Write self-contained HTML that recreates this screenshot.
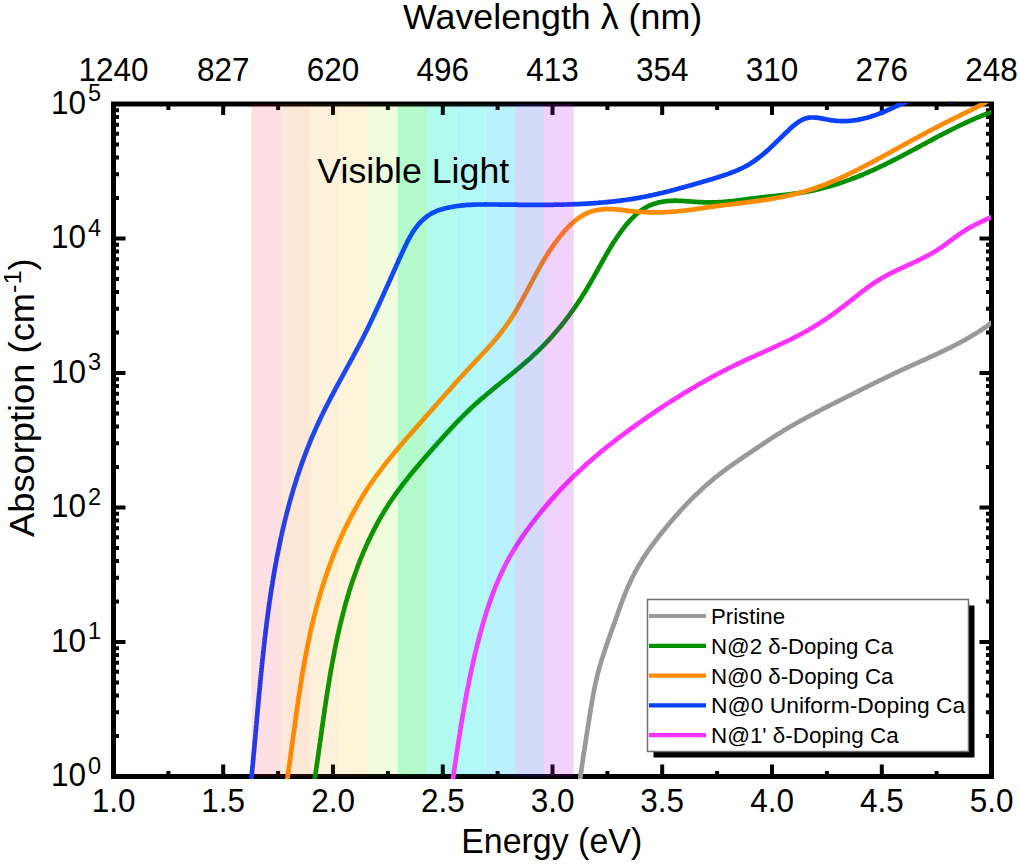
<!DOCTYPE html>
<html><head><meta charset="utf-8"><style>
html,body{margin:0;padding:0;background:#fff;width:1020px;height:866px;overflow:hidden}
svg{display:block;font-family:"Liberation Sans",sans-serif}
.t1{font-size:35px}
.tk{font-size:31.5px}
.sup{font-size:23.5px}
.sup2{font-size:24.5px}
.lg{font-size:22px}
.vl{font-size:34.5px}
</style></head><body>
<svg width="1020" height="866" viewBox="0 0 1020 866">
<defs><clipPath id="pc"><rect x="111" y="103" width="880" height="676"/></clipPath></defs>
<rect x="251.5" y="104" width="29.34" height="672.5" fill="rgb(253,255,255)"/>
<rect x="280.8" y="104" width="29.34" height="672.5" fill="rgb(253,251,245)"/>
<rect x="310.1" y="104" width="29.34" height="672.5" fill="rgb(254,248,239)"/>
<rect x="339.4" y="104" width="29.34" height="672.5" fill="rgb(254,248,237)"/>
<rect x="368.7" y="104" width="29.34" height="672.5" fill="rgb(245,252,236)"/>
<rect x="397.9" y="104" width="29.34" height="672.5" fill="rgb(196,253,215)"/>
<rect x="427.2" y="104" width="29.34" height="672.5" fill="rgb(187,251,242)"/>
<rect x="456.5" y="104" width="29.34" height="672.5" fill="rgb(190,249,248)"/>
<rect x="485.8" y="104" width="29.34" height="672.5" fill="rgb(200,247,250)"/>
<rect x="515.1" y="104" width="29.34" height="672.5" fill="rgb(248,255,249)"/>
<rect x="544.4" y="104" width="29.34" height="672.5" fill="rgb(249,255,249)"/>
<rect x="113.5" y="104" width="878" height="672.5" fill="none" stroke="#000" stroke-width="5"/>
<path d="M168.4,776.5 V771 M168.4,104 V110 M223.2,776.5 V764.5 M223.2,104 V115 M278.1,776.5 V771 M278.1,104 V110 M333.0,776.5 V764.5 M333.0,104 V115 M387.9,776.5 V771 M387.9,104 V110 M442.8,776.5 V764.5 M442.8,104 V115 M497.6,776.5 V771 M497.6,104 V110 M552.5,776.5 V764.5 M552.5,104 V115 M607.4,776.5 V771 M607.4,104 V110 M662.2,776.5 V764.5 M662.2,104 V115 M717.1,776.5 V771 M717.1,104 V110 M772.0,776.5 V764.5 M772.0,104 V115 M826.9,776.5 V771 M826.9,104 V110 M881.8,776.5 V764.5 M881.8,104 V115 M936.6,776.5 V771 M936.6,104 V110 M113.5,736.0 H119 M991.5,736.0 H986 M113.5,712.3 H119 M991.5,712.3 H986 M113.5,695.5 H119 M991.5,695.5 H986 M113.5,682.5 H119 M991.5,682.5 H986 M113.5,671.8 H119 M991.5,671.8 H986 M113.5,662.8 H119 M991.5,662.8 H986 M113.5,655.0 H119 M991.5,655.0 H986 M113.5,648.2 H119 M991.5,648.2 H986 M113.5,642.0 H125.5 M991.5,642.0 H979.5 M113.5,601.5 H119 M991.5,601.5 H986 M113.5,577.8 H119 M991.5,577.8 H986 M113.5,561.0 H119 M991.5,561.0 H986 M113.5,548.0 H119 M991.5,548.0 H986 M113.5,537.3 H119 M991.5,537.3 H986 M113.5,528.3 H119 M991.5,528.3 H986 M113.5,520.5 H119 M991.5,520.5 H986 M113.5,513.7 H119 M991.5,513.7 H986 M113.5,507.5 H125.5 M991.5,507.5 H979.5 M113.5,467.0 H119 M991.5,467.0 H986 M113.5,443.3 H119 M991.5,443.3 H986 M113.5,426.5 H119 M991.5,426.5 H986 M113.5,413.5 H119 M991.5,413.5 H986 M113.5,402.8 H119 M991.5,402.8 H986 M113.5,393.8 H119 M991.5,393.8 H986 M113.5,386.0 H119 M991.5,386.0 H986 M113.5,379.2 H119 M991.5,379.2 H986 M113.5,373.0 H125.5 M991.5,373.0 H979.5 M113.5,332.5 H119 M991.5,332.5 H986 M113.5,308.8 H119 M991.5,308.8 H986 M113.5,292.0 H119 M991.5,292.0 H986 M113.5,279.0 H119 M991.5,279.0 H986 M113.5,268.3 H119 M991.5,268.3 H986 M113.5,259.3 H119 M991.5,259.3 H986 M113.5,251.5 H119 M991.5,251.5 H986 M113.5,244.7 H119 M991.5,244.7 H986 M113.5,238.5 H125.5 M991.5,238.5 H979.5 M113.5,198.0 H119 M991.5,198.0 H986 M113.5,174.3 H119 M991.5,174.3 H986 M113.5,157.5 H119 M991.5,157.5 H986 M113.5,144.5 H119 M991.5,144.5 H986 M113.5,133.8 H119 M991.5,133.8 H986 M113.5,124.8 H119 M991.5,124.8 H986 M113.5,117.0 H119 M991.5,117.0 H986 M113.5,110.2 H119 M991.5,110.2 H986" stroke="#000" stroke-width="4" fill="none"/>
<g clip-path="url(#pc)" fill="none" stroke-width="4.7" stroke-linejoin="round" stroke-linecap="round">
<path d="M578.8,790.0 L579.0,788.5 L579.2,787.0 L579.4,785.5 L579.6,784.0 L579.7,782.6 L579.9,781.1 L580.1,779.6 L580.3,778.1 L580.5,776.6 L580.7,775.1 L580.9,773.6 L581.1,772.2 L581.3,770.7 L581.5,769.2 L581.7,767.7 L581.9,766.2 L582.2,764.7 L582.4,763.2 L582.6,761.8 L582.8,760.3 L583.0,758.8 L583.2,757.3 L583.5,755.8 L583.7,754.3 L583.9,752.9 L584.1,751.4 L584.4,749.9 L584.6,748.4 L584.8,746.9 L585.0,745.4 L585.3,743.9 L585.5,742.5 L585.7,741.0 L586.0,739.5 L586.2,738.0 L586.4,736.5 L586.6,735.0 L586.9,733.6 L587.1,732.1 L587.3,730.6 L587.6,729.1 L587.8,727.6 L588.0,726.1 L588.3,724.7 L588.5,723.2 L588.7,721.7 L589.0,720.2 L589.2,718.7 L589.4,717.2 L589.7,715.8 L589.9,714.3 L590.1,712.8 L590.4,711.3 L590.6,709.8 L590.9,708.3 L591.1,706.9 L591.3,705.4 L591.6,703.9 L591.8,702.4 L592.1,701.0 L592.4,699.5 L592.6,698.0 L592.9,696.5 L593.2,695.1 L593.4,693.6 L593.7,692.1 L594.0,690.6 L594.3,689.2 L594.6,687.7 L594.9,686.2 L595.2,684.8 L595.5,683.3 L595.8,681.9 L596.2,680.4 L596.5,679.0 L596.8,677.5 L597.2,676.1 L597.5,674.6 L597.9,673.2 L598.3,671.7 L598.7,670.3 L599.1,668.8 L599.5,667.4 L599.9,666.0 L600.3,664.5 L600.7,663.1 L601.2,661.7 L601.6,660.2 L602.0,658.8 L602.5,657.4 L603.0,656.0 L603.4,654.5 L603.9,653.1 L604.3,651.7 L604.8,650.3 L605.3,648.8 L605.8,647.4 L606.3,646.0 L606.7,644.6 L607.2,643.2 L607.7,641.7 L608.2,640.3 L608.7,638.9 L609.2,637.5 L609.7,636.1 L610.2,634.7 L610.7,633.2 L611.2,631.8 L611.7,630.4 L612.2,629.0 L612.7,627.6 L613.2,626.2 L613.8,624.7 L614.3,623.3 L614.8,621.9 L615.3,620.5 L615.8,619.1 L616.3,617.6 L616.8,616.2 L617.3,614.8 L617.8,613.4 L618.2,612.0 L618.8,610.6 L619.3,609.1 L619.8,607.7 L620.3,606.3 L620.8,604.9 L621.3,603.5 L621.8,602.1 L622.4,600.7 L622.9,599.3 L623.4,597.9 L624.0,596.5 L624.5,595.1 L625.1,593.7 L625.7,592.3 L626.2,591.0 L626.8,589.6 L627.4,588.2 L628.0,586.8 L628.6,585.5 L629.2,584.1 L629.9,582.8 L630.5,581.4 L631.1,580.1 L631.8,578.7 L632.4,577.4 L633.1,576.0 L633.8,574.7 L634.5,573.4 L635.1,572.1 L635.8,570.7 L636.6,569.4 L637.3,568.1 L638.0,566.8 L638.8,565.5 L639.5,564.2 L640.3,563.0 L641.1,561.7 L641.8,560.4 L642.6,559.1 L643.4,557.9 L644.3,556.6 L645.1,555.4 L645.9,554.1 L646.8,552.9 L647.6,551.6 L648.5,550.4 L649.3,549.2 L650.2,547.9 L651.1,546.7 L652.0,545.5 L652.9,544.3 L653.8,543.1 L654.7,541.9 L655.6,540.7 L656.5,539.5 L657.4,538.3 L658.4,537.1 L659.3,535.9 L660.2,534.7 L661.1,533.5 L662.1,532.4 L663.0,531.2 L664.0,530.0 L664.9,528.8 L665.9,527.7 L666.8,526.5 L667.8,525.3 L668.7,524.2 L669.7,523.0 L670.7,521.9 L671.6,520.7 L672.6,519.6 L673.6,518.5 L674.6,517.3 L675.6,516.2 L676.6,515.1 L677.6,513.9 L678.6,512.8 L679.6,511.7 L680.6,510.6 L681.6,509.5 L682.6,508.4 L683.6,507.3 L684.6,506.2 L685.7,505.1 L686.7,504.0 L687.7,502.9 L688.8,501.9 L689.8,500.8 L690.9,499.7 L691.9,498.7 L693.0,497.6 L694.1,496.6 L695.1,495.5 L696.2,494.5 L697.3,493.4 L698.4,492.4 L699.5,491.4 L700.6,490.4 L701.7,489.3 L702.8,488.3 L703.9,487.3 L705.0,486.3 L706.1,485.3 L707.2,484.4 L708.4,483.4 L709.5,482.4 L710.6,481.4 L711.8,480.5 L712.9,479.5 L714.1,478.6 L715.2,477.6 L716.4,476.7 L717.6,475.8 L718.8,474.8 L719.9,473.9 L721.1,473.0 L722.3,472.1 L723.5,471.2 L724.7,470.3 L725.9,469.4 L727.1,468.5 L728.3,467.6 L729.6,466.7 L730.8,465.9 L732.0,465.0 L733.2,464.1 L734.5,463.3 L735.7,462.4 L736.9,461.5 L738.2,460.7 L739.4,459.8 L740.6,459.0 L741.9,458.1 L743.1,457.3 L744.4,456.4 L745.6,455.6 L746.9,454.8 L748.1,453.9 L749.3,453.1 L750.6,452.2 L751.8,451.4 L753.1,450.6 L754.3,449.7 L755.6,448.9 L756.8,448.0 L758.1,447.2 L759.3,446.4 L760.6,445.5 L761.8,444.7 L763.1,443.9 L764.3,443.0 L765.6,442.2 L766.8,441.4 L768.1,440.5 L769.3,439.7 L770.6,438.9 L771.8,438.1 L773.1,437.3 L774.3,436.4 L775.6,435.6 L776.9,434.8 L778.1,434.0 L779.4,433.2 L780.7,432.5 L782.0,431.7 L783.2,430.9 L784.5,430.1 L785.8,429.3 L787.1,428.6 L788.4,427.8 L789.7,427.1 L791.0,426.3 L792.3,425.6 L793.6,424.8 L794.9,424.1 L796.2,423.3 L797.5,422.6 L798.8,421.8 L800.1,421.1 L801.4,420.4 L802.7,419.7 L804.0,418.9 L805.3,418.2 L806.6,417.5 L808.0,416.8 L809.3,416.1 L810.6,415.4 L811.9,414.7 L813.2,414.0 L814.6,413.3 L815.9,412.6 L817.2,411.9 L818.6,411.2 L819.9,410.5 L821.2,409.8 L822.5,409.1 L823.9,408.4 L825.2,407.7 L826.5,407.1 L827.9,406.4 L829.2,405.7 L830.6,405.0 L831.9,404.3 L833.2,403.7 L834.6,403.0 L835.9,402.3 L837.3,401.6 L838.6,401.0 L839.9,400.3 L841.3,399.6 L842.6,399.0 L844.0,398.3 L845.3,397.6 L846.7,396.9 L848.0,396.3 L849.3,395.6 L850.7,394.9 L852.0,394.3 L853.4,393.6 L854.7,392.9 L856.1,392.3 L857.4,391.6 L858.7,390.9 L860.1,390.2 L861.4,389.6 L862.8,388.9 L864.1,388.2 L865.5,387.6 L866.8,386.9 L868.1,386.2 L869.5,385.6 L870.8,384.9 L872.2,384.2 L873.5,383.6 L874.9,382.9 L876.2,382.2 L877.6,381.6 L878.9,380.9 L880.3,380.2 L881.6,379.6 L883.0,378.9 L884.3,378.3 L885.7,377.6 L887.0,377.0 L888.4,376.3 L889.7,375.7 L891.1,375.0 L892.4,374.4 L893.8,373.7 L895.1,373.1 L896.5,372.4 L897.8,371.8 L899.2,371.2 L900.6,370.5 L901.9,369.9 L903.3,369.3 L904.6,368.6 L906.0,368.0 L907.4,367.4 L908.7,366.8 L910.1,366.2 L911.5,365.5 L912.8,364.9 L914.2,364.3 L915.6,363.7 L916.9,363.1 L918.3,362.5 L919.7,361.8 L921.0,361.2 L922.4,360.6 L923.8,360.0 L925.2,359.4 L926.5,358.8 L927.9,358.1 L929.2,357.5 L930.6,356.9 L932.0,356.3 L933.3,355.6 L934.7,355.0 L936.1,354.4 L937.4,353.8 L938.8,353.1 L940.1,352.5 L941.5,351.8 L942.8,351.2 L944.2,350.6 L945.5,349.9 L946.9,349.2 L948.2,348.6 L949.6,347.9 L950.9,347.3 L952.2,346.6 L953.6,345.9 L954.9,345.2 L956.2,344.5 L957.6,343.8 L958.9,343.2 L960.2,342.4 L961.5,341.7 L962.8,341.0 L964.2,340.3 L965.5,339.6 L966.8,338.8 L968.1,338.1 L969.4,337.3 L970.7,336.6 L971.9,335.8 L973.2,335.0 L974.5,334.3 L975.8,333.5 L977.1,332.7 L978.3,331.9 L979.6,331.1 L980.9,330.2 L982.1,329.4 L983.4,328.6 L984.6,327.7 L985.8,326.9 L987.1,326.0 L988.3,325.1 L989.5,324.2 L990.8,323.3 L992.0,322.4 L993.2,321.5 L994.4,320.6 L994.8,320.2" stroke="#999999"/>
<path d="M451.4,790.0 L451.6,788.5 L451.8,787.0 L452.0,785.5 L452.2,784.0 L452.4,782.6 L452.7,781.1 L452.9,779.6 L453.1,778.1 L453.3,776.6 L453.5,775.1 L453.7,773.6 L453.9,772.1 L454.2,770.7 L454.4,769.2 L454.6,767.7 L454.8,766.2 L455.0,764.7 L455.2,763.2 L455.5,761.7 L455.7,760.3 L455.9,758.8 L456.1,757.3 L456.3,755.8 L456.6,754.3 L456.8,752.8 L457.0,751.4 L457.2,749.9 L457.5,748.4 L457.7,746.9 L457.9,745.4 L458.1,743.9 L458.4,742.5 L458.6,741.0 L458.8,739.5 L459.1,738.0 L459.3,736.5 L459.5,735.1 L459.8,733.6 L460.0,732.1 L460.2,730.6 L460.5,729.1 L460.7,727.7 L460.9,726.2 L461.2,724.7 L461.4,723.2 L461.7,721.7 L461.9,720.3 L462.2,718.8 L462.4,717.3 L462.7,715.8 L462.9,714.4 L463.2,712.9 L463.4,711.4 L463.7,709.9 L464.0,708.5 L464.2,707.0 L464.5,705.5 L464.7,704.0 L465.0,702.6 L465.3,701.1 L465.5,699.6 L465.8,698.1 L466.1,696.7 L466.4,695.2 L466.6,693.7 L466.9,692.2 L467.2,690.8 L467.5,689.3 L467.8,687.8 L468.1,686.4 L468.4,684.9 L468.7,683.4 L468.9,682.0 L469.2,680.5 L469.5,679.0 L469.8,677.6 L470.2,676.1 L470.5,674.6 L470.8,673.2 L471.1,671.7 L471.4,670.2 L471.7,668.8 L472.0,667.3 L472.4,665.8 L472.7,664.4 L473.0,662.9 L473.3,661.4 L473.7,660.0 L474.0,658.5 L474.3,657.1 L474.7,655.6 L475.0,654.1 L475.4,652.7 L475.7,651.2 L476.1,649.8 L476.4,648.3 L476.8,646.8 L477.2,645.4 L477.5,643.9 L477.9,642.5 L478.3,641.0 L478.6,639.6 L479.0,638.1 L479.4,636.6 L479.8,635.2 L480.2,633.7 L480.6,632.3 L481.0,630.8 L481.4,629.4 L481.8,627.9 L482.2,626.5 L482.6,625.0 L483.0,623.6 L483.4,622.1 L483.8,620.7 L484.3,619.2 L484.7,617.8 L485.1,616.4 L485.6,614.9 L486.0,613.5 L486.5,612.1 L486.9,610.6 L487.4,609.2 L487.9,607.8 L488.3,606.3 L488.8,604.9 L489.3,603.5 L489.8,602.1 L490.3,600.7 L490.8,599.2 L491.3,597.8 L491.8,596.4 L492.3,595.0 L492.8,593.6 L493.4,592.2 L493.9,590.8 L494.5,589.4 L495.0,588.0 L495.6,586.6 L496.1,585.2 L496.7,583.8 L497.3,582.5 L497.9,581.1 L498.5,579.7 L499.1,578.3 L499.7,577.0 L500.3,575.6 L500.9,574.3 L501.5,572.9 L502.2,571.5 L502.8,570.2 L503.5,568.9 L504.1,567.5 L504.8,566.2 L505.5,564.8 L506.2,563.5 L506.8,562.2 L507.5,560.9 L508.3,559.6 L509.0,558.2 L509.7,556.9 L510.4,555.6 L511.2,554.3 L511.9,553.1 L512.7,551.8 L513.5,550.5 L514.2,549.2 L515.0,547.9 L515.8,546.7 L516.6,545.4 L517.4,544.1 L518.2,542.9 L519.1,541.6 L519.9,540.4 L520.7,539.1 L521.6,537.9 L522.4,536.6 L523.3,535.4 L524.1,534.2 L525.0,532.9 L525.9,531.7 L526.7,530.5 L527.6,529.3 L528.5,528.1 L529.4,526.9 L530.3,525.7 L531.2,524.5 L532.1,523.3 L533.0,522.1 L533.9,520.9 L534.8,519.7 L535.8,518.5 L536.7,517.3 L537.6,516.2 L538.6,515.0 L539.5,513.8 L540.4,512.6 L541.4,511.5 L542.3,510.3 L543.3,509.2 L544.3,508.0 L545.2,506.9 L546.2,505.7 L547.2,504.6 L548.1,503.4 L549.1,502.3 L550.1,501.1 L551.1,500.0 L552.1,498.9 L553.1,497.8 L554.1,496.7 L555.1,495.5 L556.1,494.4 L557.1,493.3 L558.1,492.2 L559.2,491.1 L560.2,490.0 L561.2,488.9 L562.2,487.8 L563.3,486.7 L564.3,485.7 L565.4,484.6 L566.4,483.5 L567.4,482.4 L568.5,481.4 L569.6,480.3 L570.6,479.3 L571.7,478.2 L572.8,477.1 L573.8,476.1 L574.9,475.1 L576.0,474.0 L577.1,473.0 L578.2,472.0 L579.2,470.9 L580.3,469.9 L581.4,468.9 L582.5,467.9 L583.6,466.9 L584.8,465.8 L585.9,464.8 L587.0,463.8 L588.1,462.8 L589.2,461.9 L590.3,460.9 L591.5,459.9 L592.6,458.9 L593.7,457.9 L594.9,457.0 L596.0,456.0 L597.2,455.0 L598.3,454.1 L599.5,453.1 L600.6,452.1 L601.8,451.2 L602.9,450.2 L604.1,449.3 L605.3,448.3 L606.4,447.4 L607.6,446.5 L608.8,445.5 L609.9,444.6 L611.1,443.7 L612.3,442.8 L613.5,441.8 L614.7,440.9 L615.8,440.0 L617.0,439.1 L618.2,438.2 L619.4,437.3 L620.6,436.4 L621.8,435.5 L623.0,434.6 L624.2,433.7 L625.4,432.8 L626.6,431.9 L627.8,431.0 L629.0,430.1 L630.3,429.2 L631.5,428.3 L632.7,427.5 L633.9,426.6 L635.1,425.7 L636.3,424.8 L637.6,424.0 L638.8,423.1 L640.0,422.2 L641.2,421.4 L642.5,420.5 L643.7,419.6 L644.9,418.8 L646.1,417.9 L647.4,417.1 L648.6,416.2 L649.8,415.4 L651.1,414.5 L652.3,413.7 L653.6,412.8 L654.8,412.0 L656.0,411.1 L657.3,410.3 L658.5,409.5 L659.8,408.6 L661.0,407.8 L662.3,407.0 L663.5,406.2 L664.8,405.3 L666.1,404.5 L667.3,403.7 L668.6,402.9 L669.8,402.1 L671.1,401.3 L672.4,400.5 L673.6,399.7 L674.9,398.9 L676.2,398.1 L677.4,397.3 L678.7,396.5 L680.0,395.7 L681.2,394.9 L682.5,394.1 L683.8,393.3 L685.1,392.5 L686.4,391.8 L687.6,391.0 L688.9,390.2 L690.2,389.4 L691.5,388.7 L692.8,387.9 L694.1,387.2 L695.4,386.4 L696.7,385.6 L698.0,384.9 L699.3,384.1 L700.6,383.4 L701.9,382.7 L703.2,381.9 L704.5,381.2 L705.8,380.4 L707.1,379.7 L708.4,379.0 L709.7,378.3 L711.0,377.6 L712.4,376.8 L713.7,376.1 L715.0,375.4 L716.3,374.7 L717.7,374.0 L719.0,373.3 L720.3,372.6 L721.6,371.9 L723.0,371.2 L724.3,370.5 L725.6,369.9 L727.0,369.2 L728.3,368.5 L729.6,367.8 L731.0,367.2 L732.3,366.5 L733.7,365.8 L735.0,365.2 L736.4,364.5 L737.7,363.9 L739.1,363.2 L740.4,362.6 L741.8,361.9 L743.2,361.3 L744.5,360.7 L745.9,360.0 L747.2,359.4 L748.6,358.8 L750.0,358.2 L751.3,357.5 L752.7,356.9 L754.1,356.3 L755.4,355.7 L756.8,355.0 L758.2,354.4 L759.5,353.8 L760.9,353.2 L762.3,352.6 L763.6,352.0 L765.0,351.3 L766.4,350.7 L767.8,350.1 L769.1,349.5 L770.5,348.9 L771.8,348.2 L773.2,347.6 L774.6,347.0 L775.9,346.4 L777.3,345.7 L778.7,345.1 L780.0,344.5 L781.4,343.8 L782.7,343.2 L784.1,342.5 L785.4,341.9 L786.8,341.2 L788.1,340.6 L789.5,339.9 L790.8,339.3 L792.2,338.6 L793.5,337.9 L794.8,337.2 L796.2,336.6 L797.5,335.9 L798.8,335.2 L800.1,334.5 L801.5,333.8 L802.8,333.1 L804.1,332.3 L805.4,331.6 L806.7,330.9 L808.0,330.2 L809.3,329.4 L810.6,328.7 L811.9,327.9 L813.2,327.1 L814.5,326.4 L815.7,325.6 L817.0,324.8 L818.3,324.0 L819.5,323.2 L820.8,322.4 L822.0,321.6 L823.3,320.8 L824.6,319.9 L825.8,319.1 L827.0,318.2 L828.3,317.4 L829.5,316.5 L830.7,315.7 L832.0,314.8 L833.2,313.9 L834.4,313.1 L835.6,312.2 L836.8,311.3 L838.0,310.4 L839.2,309.5 L840.4,308.6 L841.6,307.7 L842.8,306.8 L844.0,305.9 L845.2,305.0 L846.4,304.0 L847.6,303.1 L848.8,302.2 L850.0,301.3 L851.1,300.3 L852.3,299.4 L853.5,298.5 L854.6,297.5 L855.8,296.6 L857.0,295.7 L858.2,294.7 L859.3,293.8 L860.5,292.9 L861.7,292.0 L862.9,291.0 L864.1,290.1 L865.3,289.2 L866.4,288.3 L867.6,287.5 L868.8,286.6 L870.1,285.7 L871.3,284.9 L872.5,284.0 L873.7,283.2 L875.0,282.3 L876.2,281.5 L877.5,280.7 L878.7,280.0 L880.0,279.2 L881.3,278.4 L882.6,277.7 L883.9,277.0 L885.2,276.2 L886.5,275.5 L887.8,274.8 L889.1,274.1 L890.5,273.4 L891.8,272.8 L893.2,272.1 L894.5,271.4 L895.9,270.8 L897.2,270.1 L898.6,269.5 L899.9,268.9 L901.3,268.2 L902.7,267.6 L904.0,267.0 L905.4,266.3 L906.8,265.7 L908.1,265.1 L909.5,264.4 L910.9,263.8 L912.2,263.2 L913.6,262.5 L915.0,261.9 L916.3,261.3 L917.7,260.6 L919.0,260.0 L920.4,259.3 L921.7,258.6 L923.1,258.0 L924.4,257.3 L925.7,256.6 L927.1,255.9 L928.4,255.2 L929.7,254.5 L931.0,253.8 L932.3,253.0 L933.6,252.3 L934.9,251.5 L936.2,250.7 L937.4,249.9 L938.7,249.1 L939.9,248.3 L941.2,247.5 L942.4,246.6 L943.6,245.8 L944.8,244.9 L946.0,244.0 L947.2,243.1 L948.4,242.2 L949.6,241.3 L950.8,240.4 L952.0,239.5 L953.2,238.7 L954.5,237.8 L955.7,236.9 L956.9,236.0 L958.1,235.1 L959.3,234.3 L960.5,233.4 L961.8,232.6 L963.0,231.7 L964.3,230.9 L965.6,230.1 L966.8,229.4 L968.1,228.6 L969.4,227.8 L970.7,227.1 L972.0,226.4 L973.4,225.7 L974.7,225.0 L976.0,224.3 L977.4,223.6 L978.7,222.9 L980.1,222.3 L981.4,221.6 L982.8,221.0 L984.2,220.4 L985.5,219.7 L986.9,219.1 L988.3,218.5 L989.7,217.9 L991.0,217.3 L992.4,216.7 L993.8,216.1 L995.0,215.6" stroke="#ff33ff"/>
<path d="M313.1,789.6 L313.3,788.2 L313.5,786.7 L313.8,785.3 L314.0,783.8 L314.2,782.4 L314.4,780.9 L314.7,779.5 L314.9,778.0 L315.1,776.6 L315.3,775.1 L315.5,773.7 L315.7,772.2 L316.0,770.8 L316.2,769.3 L316.4,767.8 L316.6,766.4 L316.8,764.9 L317.0,763.5 L317.2,762.0 L317.4,760.5 L317.7,759.1 L317.9,757.6 L318.1,756.1 L318.3,754.6 L318.5,753.2 L318.7,751.7 L318.9,750.2 L319.1,748.7 L319.3,747.3 L319.5,745.8 L319.7,744.3 L319.9,742.8 L320.2,741.4 L320.4,739.9 L320.6,738.4 L320.8,736.9 L321.0,735.4 L321.2,733.9 L321.4,732.5 L321.6,731.0 L321.8,729.5 L322.0,728.0 L322.2,726.5 L322.5,725.0 L322.7,723.5 L322.9,722.0 L323.1,720.6 L323.3,719.1 L323.5,717.6 L323.7,716.1 L324.0,714.6 L324.2,713.1 L324.4,711.6 L324.6,710.1 L324.8,708.6 L325.0,707.1 L325.3,705.6 L325.5,704.2 L325.7,702.7 L325.9,701.2 L326.2,699.7 L326.4,698.2 L326.6,696.7 L326.9,695.2 L327.1,693.7 L327.3,692.2 L327.6,690.7 L327.8,689.2 L328.0,687.7 L328.3,686.2 L328.5,684.7 L328.8,683.3 L329.0,681.8 L329.3,680.3 L329.5,678.8 L329.7,677.3 L330.0,675.8 L330.3,674.3 L330.5,672.8 L330.8,671.3 L331.0,669.8 L331.3,668.3 L331.6,666.9 L331.8,665.4 L332.1,663.9 L332.4,662.4 L332.6,660.9 L332.9,659.4 L333.2,657.9 L333.5,656.5 L333.8,655.0 L334.1,653.5 L334.3,652.0 L334.6,650.5 L334.9,649.0 L335.2,647.6 L335.5,646.1 L335.8,644.6 L336.1,643.1 L336.4,641.7 L336.8,640.2 L337.1,638.7 L337.4,637.2 L337.7,635.8 L338.0,634.3 L338.4,632.8 L338.7,631.3 L339.0,629.9 L339.4,628.4 L339.7,626.9 L340.0,625.5 L340.4,624.0 L340.7,622.5 L341.1,621.1 L341.5,619.6 L341.8,618.2 L342.2,616.7 L342.6,615.3 L342.9,613.8 L343.3,612.3 L343.7,610.9 L344.1,609.4 L344.5,608.0 L344.8,606.6 L345.2,605.1 L345.6,603.7 L346.0,602.2 L346.5,600.8 L346.9,599.3 L347.3,597.9 L347.7,596.5 L348.1,595.0 L348.6,593.6 L349.0,592.2 L349.4,590.7 L349.9,589.3 L350.3,587.9 L350.8,586.5 L351.2,585.0 L351.7,583.6 L352.2,582.2 L352.6,580.8 L353.1,579.4 L353.6,578.0 L354.1,576.6 L354.6,575.2 L355.1,573.8 L355.6,572.4 L356.1,571.0 L356.6,569.6 L357.1,568.2 L357.6,566.8 L358.1,565.4 L358.7,564.0 L359.2,562.6 L359.7,561.2 L360.3,559.8 L360.8,558.5 L361.4,557.1 L362.0,555.7 L362.5,554.3 L363.1,553.0 L363.7,551.6 L364.3,550.2 L364.9,548.9 L365.5,547.5 L366.1,546.1 L366.7,544.8 L367.3,543.4 L367.9,542.1 L368.5,540.8 L369.2,539.4 L369.8,538.1 L370.5,536.7 L371.1,535.4 L371.8,534.1 L372.4,532.7 L373.1,531.4 L373.8,530.1 L374.5,528.8 L375.1,527.5 L375.8,526.1 L376.5,524.8 L377.2,523.5 L378.0,522.2 L378.7,520.9 L379.4,519.6 L380.1,518.3 L380.9,517.0 L381.6,515.7 L382.4,514.5 L383.2,513.2 L383.9,511.9 L384.7,510.6 L385.5,509.4 L386.3,508.1 L387.1,506.8 L387.9,505.6 L388.7,504.3 L389.5,503.0 L390.3,501.8 L391.2,500.5 L392.0,499.3 L392.9,498.1 L393.7,496.8 L394.6,495.6 L395.4,494.4 L396.3,493.1 L397.2,491.9 L398.1,490.7 L399.0,489.5 L399.9,488.3 L400.8,487.1 L401.7,485.8 L402.6,484.6 L403.5,483.4 L404.5,482.2 L405.4,481.1 L406.3,479.9 L407.3,478.7 L408.2,477.5 L409.2,476.3 L410.1,475.1 L411.1,473.9 L412.0,472.8 L413.0,471.6 L414.0,470.4 L414.9,469.3 L415.9,468.1 L416.9,466.9 L417.9,465.8 L418.8,464.6 L419.8,463.5 L420.8,462.3 L421.8,461.2 L422.8,460.0 L423.8,458.9 L424.8,457.7 L425.8,456.6 L426.8,455.4 L427.8,454.3 L428.8,453.2 L429.8,452.0 L430.8,450.9 L431.8,449.8 L432.8,448.6 L433.8,447.5 L434.8,446.4 L435.8,445.3 L436.8,444.1 L437.8,443.0 L438.8,441.9 L439.8,440.8 L440.8,439.7 L441.8,438.6 L442.8,437.5 L443.8,436.3 L444.8,435.2 L445.8,434.1 L446.8,433.0 L447.8,431.9 L448.8,430.8 L449.8,429.7 L450.8,428.7 L451.8,427.6 L452.9,426.5 L453.9,425.4 L454.9,424.3 L455.9,423.2 L456.9,422.2 L458.0,421.1 L459.0,420.0 L460.0,419.0 L461.1,417.9 L462.1,416.9 L463.2,415.8 L464.2,414.8 L465.3,413.7 L466.3,412.7 L467.4,411.7 L468.5,410.6 L469.5,409.6 L470.6,408.6 L471.7,407.6 L472.8,406.6 L473.9,405.6 L475.0,404.6 L476.1,403.6 L477.2,402.6 L478.4,401.6 L479.5,400.6 L480.6,399.6 L481.7,398.6 L482.9,397.7 L484.0,396.7 L485.2,395.7 L486.3,394.8 L487.5,393.8 L488.6,392.8 L489.8,391.9 L490.9,390.9 L492.1,390.0 L493.2,389.0 L494.4,388.0 L495.6,387.1 L496.7,386.1 L497.9,385.2 L499.1,384.2 L500.2,383.3 L501.4,382.3 L502.6,381.4 L503.8,380.4 L504.9,379.5 L506.1,378.5 L507.3,377.6 L508.4,376.6 L509.6,375.7 L510.8,374.7 L511.9,373.8 L513.1,372.8 L514.3,371.9 L515.4,370.9 L516.6,369.9 L517.7,369.0 L518.9,368.0 L520.0,367.0 L521.2,366.1 L522.3,365.1 L523.5,364.1 L524.6,363.1 L525.8,362.1 L526.9,361.1 L528.0,360.2 L529.1,359.2 L530.3,358.2 L531.4,357.2 L532.5,356.1 L533.6,355.1 L534.7,354.1 L535.8,353.1 L536.9,352.1 L537.9,351.0 L539.0,350.0 L540.1,348.9 L541.1,347.9 L542.2,346.8 L543.2,345.8 L544.3,344.7 L545.3,343.6 L546.3,342.6 L547.4,341.5 L548.4,340.4 L549.4,339.3 L550.4,338.2 L551.4,337.1 L552.4,336.0 L553.4,334.9 L554.4,333.7 L555.3,332.6 L556.3,331.5 L557.3,330.3 L558.2,329.2 L559.2,328.1 L560.1,326.9 L561.1,325.8 L562.0,324.6 L562.9,323.4 L563.9,322.3 L564.8,321.1 L565.7,319.9 L566.6,318.7 L567.5,317.5 L568.4,316.3 L569.3,315.1 L570.2,313.9 L571.0,312.7 L571.9,311.5 L572.8,310.3 L573.6,309.1 L574.5,307.8 L575.3,306.6 L576.2,305.4 L577.0,304.1 L577.9,302.9 L578.7,301.6 L579.5,300.4 L580.3,299.1 L581.2,297.9 L582.0,296.6 L582.8,295.3 L583.6,294.1 L584.4,292.8 L585.2,291.5 L586.0,290.2 L586.7,288.9 L587.5,287.6 L588.3,286.4 L589.0,285.1 L589.8,283.8 L590.6,282.4 L591.3,281.1 L592.1,279.8 L592.8,278.5 L593.6,277.2 L594.3,275.9 L595.0,274.5 L595.8,273.2 L596.5,271.9 L597.3,270.6 L598.0,269.3 L598.7,267.9 L599.5,266.6 L600.2,265.3 L600.9,264.0 L601.7,262.6 L602.4,261.3 L603.2,260.0 L603.9,258.7 L604.7,257.3 L605.4,256.0 L606.2,254.7 L606.9,253.4 L607.7,252.1 L608.5,250.8 L609.2,249.5 L610.0,248.2 L610.8,246.9 L611.6,245.6 L612.4,244.3 L613.2,243.0 L614.0,241.8 L614.9,240.5 L615.7,239.2 L616.5,238.0 L617.4,236.7 L618.2,235.5 L619.1,234.2 L620.0,233.0 L620.9,231.8 L621.8,230.5 L622.7,229.3 L623.6,228.1 L624.5,226.9 L625.5,225.7 L626.4,224.6 L627.4,223.4 L628.4,222.3 L629.4,221.1 L630.4,220.0 L631.5,218.9 L632.5,217.9 L633.6,216.8 L634.6,215.8 L635.7,214.8 L636.8,213.8 L637.9,212.9 L639.1,212.0 L640.2,211.1 L641.4,210.2 L642.6,209.4 L643.8,208.6 L645.0,207.9 L646.3,207.2 L647.5,206.5 L648.8,205.9 L650.1,205.3 L651.4,204.8 L652.8,204.3 L654.1,203.8 L655.5,203.4 L656.8,203.0 L658.2,202.6 L659.6,202.3 L661.0,202.0 L662.5,201.7 L663.9,201.5 L665.4,201.3 L666.8,201.1 L668.3,201.0 L669.8,200.9 L671.2,200.8 L672.7,200.8 L674.2,200.7 L675.7,200.7 L677.2,200.8 L678.8,200.8 L680.3,200.9 L681.8,200.9 L683.3,201.0 L684.9,201.1 L686.4,201.2 L687.9,201.3 L689.5,201.4 L691.0,201.5 L692.5,201.7 L694.1,201.8 L695.6,201.9 L697.2,202.0 L698.7,202.1 L700.2,202.2 L701.7,202.2 L703.3,202.3 L704.8,202.4 L706.3,202.4 L707.8,202.4 L709.3,202.4 L710.9,202.4 L712.4,202.4 L713.9,202.4 L715.4,202.4 L716.9,202.3 L718.4,202.2 L719.9,202.2 L721.4,202.1 L722.8,202.0 L724.3,201.8 L725.8,201.7 L727.3,201.6 L728.8,201.4 L730.3,201.3 L731.7,201.1 L733.2,201.0 L734.7,200.8 L736.2,200.6 L737.7,200.4 L739.1,200.3 L740.6,200.1 L742.1,199.9 L743.6,199.7 L745.0,199.5 L746.5,199.3 L748.0,199.1 L749.5,198.9 L750.9,198.7 L752.4,198.5 L753.9,198.3 L755.4,198.1 L756.9,198.0 L758.4,197.8 L759.8,197.6 L761.3,197.4 L762.8,197.3 L764.3,197.1 L765.8,196.9 L767.3,196.8 L768.8,196.6 L770.3,196.4 L771.8,196.3 L773.3,196.1 L774.7,196.0 L776.2,195.8 L777.7,195.6 L779.2,195.5 L780.7,195.3 L782.2,195.1 L783.7,195.0 L785.2,194.8 L786.7,194.6 L788.2,194.5 L789.7,194.3 L791.2,194.1 L792.7,193.9 L794.2,193.7 L795.6,193.5 L797.1,193.3 L798.6,193.0 L800.1,192.8 L801.6,192.6 L803.1,192.3 L804.5,192.1 L806.0,191.8 L807.5,191.6 L809.0,191.3 L810.4,191.0 L811.9,190.7 L813.4,190.4 L814.8,190.1 L816.3,189.7 L817.7,189.4 L819.2,189.1 L820.6,188.7 L822.1,188.3 L823.5,188.0 L825.0,187.6 L826.4,187.2 L827.9,186.8 L829.3,186.4 L830.7,186.0 L832.2,185.5 L833.6,185.1 L835.0,184.7 L836.5,184.2 L837.9,183.8 L839.3,183.3 L840.7,182.8 L842.2,182.4 L843.6,181.9 L845.0,181.4 L846.4,180.9 L847.8,180.4 L849.2,179.9 L850.6,179.4 L852.0,178.8 L853.4,178.3 L854.8,177.8 L856.2,177.2 L857.6,176.7 L859.0,176.1 L860.4,175.5 L861.8,175.0 L863.2,174.4 L864.5,173.8 L865.9,173.2 L867.3,172.6 L868.7,172.0 L870.0,171.4 L871.4,170.8 L872.8,170.2 L874.2,169.6 L875.5,169.0 L876.9,168.3 L878.2,167.7 L879.6,167.0 L880.9,166.4 L882.3,165.8 L883.6,165.1 L885.0,164.5 L886.3,163.8 L887.7,163.1 L889.0,162.5 L890.4,161.8 L891.7,161.1 L893.0,160.4 L894.4,159.8 L895.7,159.1 L897.1,158.4 L898.4,157.7 L899.7,157.0 L901.0,156.3 L902.4,155.6 L903.7,154.9 L905.0,154.2 L906.4,153.5 L907.7,152.8 L909.0,152.1 L910.3,151.4 L911.7,150.7 L913.0,150.0 L914.3,149.3 L915.6,148.6 L916.9,147.9 L918.3,147.2 L919.6,146.4 L920.9,145.7 L922.2,145.0 L923.5,144.3 L924.9,143.6 L926.2,142.9 L927.5,142.2 L928.8,141.5 L930.1,140.8 L931.5,140.1 L932.8,139.4 L934.1,138.6 L935.4,137.9 L936.8,137.2 L938.1,136.5 L939.4,135.8 L940.7,135.1 L942.1,134.5 L943.4,133.8 L944.7,133.1 L946.1,132.4 L947.4,131.7 L948.7,131.0 L950.1,130.3 L951.4,129.7 L952.8,129.0 L954.1,128.3 L955.4,127.7 L956.8,127.0 L958.1,126.3 L959.5,125.7 L960.8,125.0 L962.2,124.4 L963.5,123.8 L964.9,123.1 L966.3,122.5 L967.6,121.9 L969.0,121.2 L970.3,120.6 L971.7,120.0 L973.1,119.4 L974.5,118.8 L975.8,118.2 L977.2,117.6 L978.6,117.0 L980.0,116.5 L981.4,115.9 L982.8,115.3 L984.2,114.8 L985.6,114.2 L987.0,113.7 L988.4,113.2 L989.8,112.6 L991.2,112.1 L992.6,111.6 L994.0,111.1 L995.1,110.7" stroke="#009000"/>
<path d="M285.7,790.0 L285.9,788.5 L286.1,787.0 L286.3,785.5 L286.6,784.1 L286.8,782.6 L287.0,781.1 L287.2,779.6 L287.4,778.1 L287.7,776.6 L287.9,775.1 L288.1,773.7 L288.3,772.2 L288.5,770.7 L288.7,769.2 L288.9,767.7 L289.2,766.2 L289.4,764.7 L289.6,763.3 L289.8,761.8 L290.0,760.3 L290.2,758.8 L290.4,757.3 L290.6,755.8 L290.8,754.3 L291.0,752.8 L291.2,751.4 L291.4,749.9 L291.6,748.4 L291.8,746.9 L292.0,745.4 L292.2,743.9 L292.4,742.4 L292.6,741.0 L292.8,739.5 L293.0,738.0 L293.2,736.5 L293.4,735.0 L293.6,733.5 L293.8,732.0 L294.0,730.6 L294.3,729.1 L294.5,727.6 L294.7,726.1 L294.9,724.6 L295.1,723.1 L295.3,721.6 L295.5,720.2 L295.7,718.7 L295.9,717.2 L296.1,715.7 L296.3,714.2 L296.5,712.7 L296.7,711.2 L296.9,709.8 L297.1,708.3 L297.4,706.8 L297.6,705.3 L297.8,703.8 L298.0,702.3 L298.2,700.9 L298.4,699.4 L298.6,697.9 L298.9,696.4 L299.1,694.9 L299.3,693.5 L299.5,692.0 L299.8,690.5 L300.0,689.0 L300.2,687.5 L300.5,686.0 L300.7,684.6 L300.9,683.1 L301.2,681.6 L301.4,680.1 L301.6,678.6 L301.9,677.2 L302.1,675.7 L302.4,674.2 L302.6,672.7 L302.9,671.3 L303.1,669.8 L303.4,668.3 L303.6,666.8 L303.9,665.4 L304.1,663.9 L304.4,662.4 L304.7,660.9 L304.9,659.5 L305.2,658.0 L305.5,656.5 L305.8,655.0 L306.1,653.6 L306.3,652.1 L306.6,650.6 L306.9,649.1 L307.2,647.7 L307.5,646.2 L307.8,644.7 L308.1,643.3 L308.4,641.8 L308.7,640.3 L309.0,638.9 L309.3,637.4 L309.6,635.9 L310.0,634.5 L310.3,633.0 L310.6,631.5 L310.9,630.1 L311.3,628.6 L311.6,627.1 L311.9,625.7 L312.3,624.2 L312.6,622.7 L313.0,621.3 L313.3,619.8 L313.7,618.4 L314.1,616.9 L314.4,615.4 L314.8,614.0 L315.2,612.5 L315.5,611.1 L315.9,609.6 L316.3,608.2 L316.7,606.7 L317.1,605.3 L317.5,603.8 L317.9,602.4 L318.3,600.9 L318.7,599.5 L319.1,598.0 L319.5,596.6 L319.9,595.2 L320.4,593.7 L320.8,592.3 L321.2,590.8 L321.7,589.4 L322.1,588.0 L322.5,586.5 L323.0,585.1 L323.4,583.7 L323.9,582.2 L324.4,580.8 L324.8,579.4 L325.3,578.0 L325.8,576.5 L326.2,575.1 L326.7,573.7 L327.2,572.3 L327.7,570.9 L328.2,569.5 L328.7,568.0 L329.2,566.6 L329.7,565.2 L330.2,563.8 L330.8,562.4 L331.3,561.0 L331.8,559.6 L332.3,558.2 L332.9,556.8 L333.4,555.4 L334.0,554.0 L334.5,552.6 L335.1,551.3 L335.6,549.9 L336.2,548.5 L336.8,547.1 L337.4,545.7 L337.9,544.4 L338.5,543.0 L339.1,541.6 L339.7,540.2 L340.3,538.9 L340.9,537.5 L341.5,536.1 L342.2,534.8 L342.8,533.4 L343.4,532.1 L344.0,530.7 L344.7,529.4 L345.3,528.0 L346.0,526.7 L346.6,525.3 L347.3,524.0 L348.0,522.7 L348.6,521.3 L349.3,520.0 L350.0,518.7 L350.7,517.4 L351.4,516.0 L352.1,514.7 L352.8,513.4 L353.5,512.1 L354.2,510.8 L354.9,509.5 L355.6,508.2 L356.4,506.9 L357.1,505.6 L357.8,504.3 L358.6,503.0 L359.3,501.7 L360.1,500.4 L360.9,499.1 L361.6,497.9 L362.4,496.6 L363.2,495.3 L364.0,494.1 L364.8,492.8 L365.6,491.5 L366.4,490.3 L367.2,489.0 L368.0,487.8 L368.9,486.5 L369.7,485.3 L370.5,484.1 L371.4,482.8 L372.2,481.6 L373.1,480.4 L374.0,479.1 L374.8,477.9 L375.7,476.7 L376.6,475.5 L377.5,474.3 L378.4,473.1 L379.3,471.9 L380.2,470.7 L381.1,469.5 L382.0,468.3 L382.9,467.1 L383.8,465.9 L384.7,464.7 L385.7,463.5 L386.6,462.3 L387.5,461.2 L388.5,460.0 L389.4,458.8 L390.4,457.6 L391.3,456.5 L392.3,455.3 L393.2,454.1 L394.2,453.0 L395.1,451.8 L396.1,450.7 L397.1,449.5 L398.1,448.4 L399.0,447.2 L400.0,446.1 L401.0,444.9 L402.0,443.8 L403.0,442.6 L403.9,441.5 L404.9,440.3 L405.9,439.2 L406.9,438.1 L407.9,436.9 L408.9,435.8 L409.9,434.7 L410.9,433.5 L411.9,432.4 L412.9,431.3 L413.9,430.1 L414.9,429.0 L415.9,427.9 L416.9,426.7 L417.8,425.6 L418.8,424.5 L419.8,423.4 L420.8,422.2 L421.8,421.1 L422.8,420.0 L423.8,418.9 L424.8,417.8 L425.8,416.6 L426.8,415.5 L427.8,414.4 L428.8,413.3 L429.8,412.2 L430.8,411.0 L431.8,409.9 L432.7,408.8 L433.7,407.7 L434.7,406.6 L435.7,405.4 L436.7,404.3 L437.7,403.2 L438.6,402.1 L439.6,401.0 L440.6,399.8 L441.6,398.7 L442.6,397.6 L443.6,396.5 L444.5,395.4 L445.5,394.3 L446.5,393.1 L447.5,392.0 L448.5,390.9 L449.5,389.8 L450.5,388.7 L451.5,387.6 L452.4,386.5 L453.4,385.4 L454.4,384.3 L455.4,383.1 L456.4,382.0 L457.4,380.9 L458.4,379.8 L459.4,378.7 L460.4,377.6 L461.4,376.5 L462.4,375.4 L463.4,374.3 L464.4,373.2 L465.5,372.1 L466.5,371.0 L467.5,369.9 L468.5,368.8 L469.5,367.7 L470.6,366.6 L471.6,365.5 L472.6,364.4 L473.7,363.3 L474.7,362.2 L475.7,361.1 L476.8,360.0 L477.8,358.9 L478.8,357.8 L479.9,356.7 L480.9,355.6 L481.9,354.5 L482.9,353.4 L484.0,352.3 L485.0,351.2 L486.0,350.1 L487.0,349.0 L488.1,347.8 L489.1,346.7 L490.1,345.6 L491.1,344.5 L492.1,343.3 L493.1,342.2 L494.0,341.1 L495.0,339.9 L496.0,338.8 L497.0,337.6 L497.9,336.5 L498.9,335.3 L499.8,334.1 L500.7,333.0 L501.7,331.8 L502.6,330.6 L503.5,329.4 L504.4,328.2 L505.3,327.0 L506.1,325.8 L507.0,324.5 L507.8,323.3 L508.7,322.1 L509.5,320.8 L510.3,319.6 L511.2,318.3 L512.0,317.1 L512.8,315.8 L513.6,314.6 L514.3,313.3 L515.1,312.0 L515.9,310.7 L516.7,309.4 L517.4,308.2 L518.2,306.9 L518.9,305.6 L519.7,304.3 L520.4,303.0 L521.1,301.7 L521.9,300.3 L522.6,299.0 L523.3,297.7 L524.0,296.4 L524.7,295.1 L525.4,293.8 L526.2,292.4 L526.9,291.1 L527.6,289.8 L528.3,288.5 L529.0,287.2 L529.7,285.8 L530.4,284.5 L531.1,283.2 L531.8,281.9 L532.5,280.5 L533.2,279.2 L533.9,277.9 L534.6,276.6 L535.3,275.3 L536.0,273.9 L536.7,272.6 L537.5,271.3 L538.2,270.0 L538.9,268.7 L539.6,267.4 L540.4,266.1 L541.1,264.8 L541.8,263.5 L542.6,262.2 L543.3,260.9 L544.1,259.7 L544.9,258.4 L545.6,257.1 L546.4,255.8 L547.2,254.6 L548.0,253.3 L548.8,252.0 L549.6,250.8 L550.4,249.5 L551.3,248.3 L552.1,247.1 L553.0,245.8 L553.8,244.6 L554.7,243.4 L555.6,242.1 L556.5,240.9 L557.4,239.7 L558.4,238.5 L559.3,237.3 L560.3,236.1 L561.3,234.9 L562.3,233.7 L563.3,232.5 L564.3,231.3 L565.3,230.1 L566.4,229.0 L567.5,227.8 L568.6,226.7 L569.7,225.6 L570.8,224.5 L571.9,223.5 L573.1,222.5 L574.2,221.5 L575.4,220.5 L576.6,219.5 L577.8,218.6 L579.0,217.8 L580.3,216.9 L581.5,216.1 L582.8,215.4 L584.1,214.6 L585.4,214.0 L586.7,213.4 L588.0,212.8 L589.3,212.2 L590.7,211.8 L592.0,211.3 L593.4,210.9 L594.8,210.6 L596.2,210.3 L597.6,210.0 L599.0,209.8 L600.4,209.6 L601.8,209.4 L603.2,209.3 L604.7,209.2 L606.1,209.1 L607.6,209.1 L609.0,209.1 L610.5,209.1 L612.0,209.2 L613.4,209.2 L614.9,209.3 L616.4,209.5 L617.9,209.6 L619.3,209.7 L620.8,209.9 L622.3,210.1 L623.8,210.3 L625.3,210.4 L626.8,210.6 L628.3,210.8 L629.7,211.0 L631.2,211.1 L632.7,211.3 L634.2,211.4 L635.7,211.5 L637.2,211.7 L638.7,211.8 L640.2,211.9 L641.7,212.0 L643.2,212.0 L644.6,212.1 L646.1,212.2 L647.6,212.2 L649.1,212.3 L650.6,212.3 L652.1,212.3 L653.6,212.4 L655.1,212.4 L656.6,212.4 L658.1,212.3 L659.6,212.3 L661.1,212.3 L662.6,212.3 L664.1,212.2 L665.6,212.2 L667.1,212.1 L668.5,212.0 L670.0,211.9 L671.5,211.8 L673.0,211.7 L674.5,211.6 L676.0,211.5 L677.5,211.3 L679.0,211.2 L680.5,211.0 L681.9,210.9 L683.4,210.7 L684.9,210.5 L686.4,210.3 L687.9,210.2 L689.4,210.0 L690.9,209.8 L692.3,209.6 L693.8,209.4 L695.3,209.1 L696.8,208.9 L698.3,208.7 L699.8,208.5 L701.3,208.3 L702.7,208.1 L704.2,207.9 L705.7,207.6 L707.2,207.4 L708.7,207.2 L710.2,207.0 L711.7,206.8 L713.2,206.6 L714.6,206.4 L716.1,206.2 L717.6,206.0 L719.1,205.8 L720.6,205.6 L722.1,205.4 L723.6,205.2 L725.1,205.0 L726.6,204.9 L728.1,204.7 L729.6,204.5 L731.1,204.3 L732.6,204.1 L734.1,203.9 L735.6,203.8 L737.0,203.6 L738.5,203.4 L740.0,203.2 L741.5,203.0 L743.0,202.8 L744.5,202.6 L746.0,202.5 L747.5,202.3 L749.0,202.1 L750.5,201.9 L752.0,201.7 L753.5,201.5 L755.0,201.3 L756.4,201.1 L757.9,200.9 L759.4,200.7 L760.9,200.5 L762.4,200.2 L763.9,200.0 L765.4,199.8 L766.8,199.6 L768.3,199.3 L769.8,199.1 L771.3,198.8 L772.7,198.6 L774.2,198.3 L775.7,198.1 L777.2,197.8 L778.6,197.5 L780.1,197.3 L781.6,197.0 L783.0,196.7 L784.5,196.4 L786.0,196.1 L787.4,195.8 L788.9,195.5 L790.3,195.1 L791.8,194.8 L793.2,194.5 L794.7,194.1 L796.1,193.8 L797.6,193.4 L799.0,193.0 L800.5,192.6 L801.9,192.2 L803.3,191.8 L804.8,191.4 L806.2,191.0 L807.6,190.6 L809.1,190.1 L810.5,189.7 L811.9,189.2 L813.3,188.7 L814.7,188.3 L816.1,187.8 L817.6,187.3 L819.0,186.8 L820.4,186.3 L821.8,185.7 L823.2,185.2 L824.6,184.7 L826.0,184.1 L827.4,183.6 L828.8,183.0 L830.1,182.4 L831.5,181.8 L832.9,181.3 L834.3,180.7 L835.7,180.1 L837.1,179.5 L838.4,178.9 L839.8,178.2 L841.2,177.6 L842.5,177.0 L843.9,176.4 L845.3,175.7 L846.6,175.1 L848.0,174.4 L849.4,173.8 L850.7,173.1 L852.1,172.4 L853.4,171.8 L854.8,171.1 L856.1,170.4 L857.5,169.8 L858.8,169.1 L860.2,168.4 L861.5,167.7 L862.9,167.0 L864.2,166.3 L865.5,165.6 L866.9,164.9 L868.2,164.2 L869.5,163.5 L870.9,162.8 L872.2,162.1 L873.5,161.4 L874.9,160.7 L876.2,160.0 L877.5,159.2 L878.8,158.5 L880.2,157.8 L881.5,157.1 L882.8,156.4 L884.1,155.7 L885.4,154.9 L886.7,154.2 L888.1,153.5 L889.4,152.8 L890.7,152.1 L892.0,151.3 L893.3,150.6 L894.6,149.9 L895.9,149.2 L897.2,148.5 L898.6,147.7 L899.9,147.0 L901.2,146.3 L902.5,145.6 L903.8,144.9 L905.1,144.1 L906.4,143.4 L907.7,142.7 L909.0,142.0 L910.3,141.3 L911.6,140.5 L913.0,139.8 L914.3,139.1 L915.6,138.4 L916.9,137.7 L918.2,137.0 L919.5,136.3 L920.8,135.6 L922.1,134.8 L923.5,134.1 L924.8,133.4 L926.1,132.7 L927.4,132.0 L928.7,131.3 L930.0,130.6 L931.4,129.9 L932.7,129.2 L934.0,128.5 L935.3,127.8 L936.7,127.1 L938.0,126.5 L939.3,125.8 L940.7,125.1 L942.0,124.4 L943.3,123.7 L944.7,123.0 L946.0,122.4 L947.4,121.7 L948.7,121.0 L950.1,120.4 L951.4,119.7 L952.8,119.0 L954.1,118.4 L955.5,117.7 L956.8,117.0 L958.2,116.4 L959.5,115.7 L960.9,115.0 L962.2,114.4 L963.6,113.7 L964.9,113.0 L966.3,112.4 L967.6,111.7 L969.0,111.0 L970.3,110.4 L971.7,109.7 L973.0,109.0 L974.3,108.3 L975.7,107.6 L977.0,107.0 L978.3,106.3 L979.7,105.6 L981.0,104.9 L982.3,104.2 L983.6,103.5 L985.0,102.7 L986.3,102.0 L987.6,101.3 L988.9,100.6 L990.2,99.8 L991.5,99.1 L992.8,98.3 L994.1,97.6 L995.0,97.0" stroke="#ff8c00"/>
<path d="M250.2,789.8 L250.4,788.3 L250.5,786.8 L250.7,785.3 L250.8,783.9 L251.0,782.4 L251.1,780.9 L251.3,779.5 L251.4,778.0 L251.6,776.5 L251.7,775.0 L251.9,773.6 L252.0,772.1 L252.1,770.6 L252.3,769.1 L252.4,767.6 L252.6,766.2 L252.7,764.7 L252.9,763.2 L253.0,761.7 L253.1,760.2 L253.3,758.8 L253.4,757.3 L253.5,755.8 L253.7,754.3 L253.8,752.8 L254.0,751.3 L254.1,749.9 L254.2,748.4 L254.4,746.9 L254.5,745.4 L254.6,743.9 L254.8,742.4 L254.9,740.9 L255.0,739.5 L255.2,738.0 L255.3,736.5 L255.4,735.0 L255.6,733.5 L255.7,732.0 L255.8,730.5 L256.0,729.0 L256.1,727.5 L256.2,726.0 L256.4,724.5 L256.5,723.1 L256.6,721.6 L256.8,720.1 L256.9,718.6 L257.0,717.1 L257.2,715.6 L257.3,714.1 L257.4,712.6 L257.6,711.1 L257.7,709.6 L257.8,708.1 L258.0,706.6 L258.1,705.1 L258.2,703.6 L258.4,702.1 L258.5,700.6 L258.7,699.1 L258.8,697.6 L258.9,696.1 L259.1,694.6 L259.2,693.2 L259.3,691.7 L259.5,690.2 L259.6,688.7 L259.8,687.2 L259.9,685.7 L260.1,684.2 L260.2,682.7 L260.3,681.2 L260.5,679.7 L260.6,678.2 L260.8,676.7 L260.9,675.2 L261.1,673.7 L261.2,672.2 L261.4,670.7 L261.5,669.2 L261.7,667.7 L261.8,666.2 L262.0,664.7 L262.1,663.2 L262.3,661.7 L262.4,660.2 L262.6,658.7 L262.8,657.2 L262.9,655.7 L263.1,654.2 L263.2,652.7 L263.4,651.2 L263.6,649.7 L263.7,648.2 L263.9,646.7 L264.1,645.2 L264.2,643.7 L264.4,642.2 L264.6,640.7 L264.7,639.2 L264.9,637.7 L265.1,636.2 L265.3,634.7 L265.4,633.3 L265.6,631.8 L265.8,630.3 L266.0,628.8 L266.2,627.3 L266.4,625.8 L266.5,624.3 L266.7,622.8 L266.9,621.3 L267.1,619.8 L267.3,618.3 L267.5,616.8 L267.7,615.3 L267.9,613.8 L268.1,612.3 L268.3,610.9 L268.5,609.4 L268.7,607.9 L268.9,606.4 L269.1,604.9 L269.3,603.4 L269.5,601.9 L269.8,600.4 L270.0,598.9 L270.2,597.5 L270.4,596.0 L270.6,594.5 L270.9,593.0 L271.1,591.5 L271.3,590.0 L271.5,588.5 L271.8,587.1 L272.0,585.6 L272.3,584.1 L272.5,582.6 L272.7,581.1 L273.0,579.6 L273.2,578.2 L273.5,576.7 L273.7,575.2 L274.0,573.7 L274.2,572.2 L274.5,570.8 L274.8,569.3 L275.0,567.8 L275.3,566.3 L275.5,564.9 L275.8,563.4 L276.1,561.9 L276.4,560.4 L276.6,559.0 L276.9,557.5 L277.2,556.0 L277.5,554.5 L277.8,553.1 L278.1,551.6 L278.4,550.1 L278.7,548.7 L279.0,547.2 L279.3,545.7 L279.6,544.3 L279.9,542.8 L280.2,541.3 L280.5,539.9 L280.8,538.4 L281.1,537.0 L281.5,535.5 L281.8,534.0 L282.1,532.6 L282.4,531.1 L282.8,529.7 L283.1,528.2 L283.4,526.8 L283.8,525.3 L284.1,523.8 L284.5,522.4 L284.8,520.9 L285.2,519.5 L285.6,518.0 L285.9,516.6 L286.3,515.1 L286.6,513.7 L287.0,512.2 L287.4,510.8 L287.8,509.4 L288.2,507.9 L288.5,506.5 L288.9,505.0 L289.3,503.6 L289.7,502.1 L290.1,500.7 L290.5,499.3 L290.9,497.8 L291.3,496.4 L291.7,495.0 L292.2,493.5 L292.6,492.1 L293.0,490.7 L293.4,489.2 L293.9,487.8 L294.3,486.4 L294.7,485.0 L295.2,483.5 L295.6,482.1 L296.1,480.7 L296.5,479.3 L297.0,477.8 L297.4,476.4 L297.9,475.0 L298.4,473.6 L298.9,472.2 L299.3,470.8 L299.8,469.4 L300.3,467.9 L300.8,466.5 L301.3,465.1 L301.8,463.7 L302.3,462.3 L302.8,460.9 L303.3,459.5 L303.8,458.1 L304.3,456.7 L304.8,455.3 L305.4,453.9 L305.9,452.5 L306.4,451.1 L307.0,449.7 L307.5,448.3 L308.1,446.9 L308.6,445.5 L309.2,444.1 L309.7,442.8 L310.3,441.4 L310.9,440.0 L311.4,438.6 L312.0,437.2 L312.6,435.8 L313.2,434.5 L313.8,433.1 L314.4,431.7 L315.0,430.3 L315.6,429.0 L316.2,427.6 L316.8,426.2 L317.4,424.9 L318.1,423.5 L318.7,422.1 L319.3,420.8 L320.0,419.4 L320.6,418.0 L321.3,416.7 L321.9,415.3 L322.6,414.0 L323.2,412.6 L323.9,411.3 L324.6,409.9 L325.2,408.6 L325.9,407.2 L326.6,405.9 L327.3,404.5 L328.0,403.2 L328.7,401.8 L329.4,400.5 L330.0,399.1 L330.7,397.8 L331.5,396.5 L332.2,395.1 L332.9,393.8 L333.6,392.4 L334.3,391.1 L335.0,389.8 L335.7,388.4 L336.4,387.1 L337.2,385.8 L337.9,384.4 L338.6,383.1 L339.3,381.8 L340.0,380.5 L340.8,379.1 L341.5,377.8 L342.2,376.5 L342.9,375.1 L343.7,373.8 L344.4,372.5 L345.1,371.2 L345.8,369.8 L346.6,368.5 L347.3,367.2 L348.0,365.8 L348.7,364.5 L349.5,363.2 L350.2,361.9 L350.9,360.5 L351.6,359.2 L352.4,357.9 L353.1,356.6 L353.8,355.2 L354.5,353.9 L355.2,352.6 L355.9,351.3 L356.6,349.9 L357.3,348.6 L358.0,347.3 L358.7,346.0 L359.4,344.6 L360.1,343.3 L360.8,342.0 L361.5,340.6 L362.2,339.3 L362.9,338.0 L363.5,336.7 L364.2,335.3 L364.9,334.0 L365.5,332.7 L366.2,331.3 L366.9,330.0 L367.5,328.7 L368.2,327.3 L368.8,326.0 L369.5,324.7 L370.1,323.3 L370.8,322.0 L371.4,320.6 L372.0,319.3 L372.7,318.0 L373.3,316.6 L373.9,315.3 L374.6,313.9 L375.2,312.6 L375.8,311.3 L376.4,309.9 L377.1,308.6 L377.7,307.2 L378.3,305.9 L378.9,304.5 L379.5,303.2 L380.1,301.8 L380.8,300.5 L381.4,299.1 L382.0,297.8 L382.6,296.4 L383.2,295.1 L383.8,293.7 L384.4,292.3 L385.0,291.0 L385.6,289.6 L386.2,288.3 L386.9,286.9 L387.5,285.5 L388.1,284.2 L388.7,282.8 L389.3,281.5 L389.9,280.1 L390.5,278.7 L391.1,277.3 L391.7,276.0 L392.3,274.6 L392.9,273.2 L393.6,271.9 L394.2,270.5 L394.8,269.1 L395.4,267.7 L396.0,266.4 L396.6,265.0 L397.3,263.6 L397.9,262.2 L398.5,260.8 L399.1,259.4 L399.7,258.1 L400.4,256.7 L401.0,255.3 L401.6,253.9 L402.3,252.5 L402.9,251.1 L403.6,249.7 L404.2,248.3 L404.9,247.0 L405.5,245.6 L406.2,244.2 L406.9,242.8 L407.5,241.5 L408.2,240.1 L409.0,238.8 L409.7,237.5 L410.4,236.2 L411.2,234.9 L411.9,233.6 L412.7,232.3 L413.5,231.1 L414.4,229.8 L415.2,228.6 L416.1,227.4 L417.0,226.3 L417.9,225.1 L418.8,224.0 L419.8,222.9 L420.7,221.9 L421.8,220.9 L422.8,219.9 L423.9,218.9 L425.0,218.0 L426.1,217.1 L427.3,216.2 L428.5,215.4 L429.7,214.6 L431.0,213.8 L432.3,213.1 L433.6,212.4 L435.0,211.8 L436.4,211.2 L437.8,210.6 L439.3,210.1 L440.7,209.6 L442.2,209.2 L443.7,208.7 L445.3,208.3 L446.8,208.0 L448.3,207.6 L449.9,207.3 L451.4,207.0 L452.9,206.7 L454.5,206.5 L456.0,206.2 L457.5,206.0 L459.1,205.8 L460.6,205.6 L462.1,205.4 L463.6,205.3 L465.1,205.2 L466.6,205.0 L468.1,204.9 L469.6,204.8 L471.1,204.8 L472.5,204.7 L474.0,204.6 L475.5,204.6 L477.0,204.5 L478.5,204.5 L479.9,204.5 L481.4,204.5 L482.9,204.5 L484.4,204.4 L485.8,204.4 L487.3,204.5 L488.8,204.5 L490.2,204.5 L491.7,204.5 L493.2,204.5 L494.7,204.5 L496.1,204.5 L497.6,204.5 L499.1,204.6 L500.6,204.6 L502.1,204.6 L503.6,204.6 L505.0,204.6 L506.5,204.6 L508.0,204.7 L509.5,204.7 L511.0,204.7 L512.5,204.7 L514.0,204.7 L515.5,204.7 L517.0,204.7 L518.5,204.8 L520.0,204.8 L521.5,204.8 L523.0,204.8 L524.5,204.8 L526.0,204.8 L527.5,204.8 L529.0,204.8 L530.5,204.8 L532.0,204.8 L533.5,204.8 L535.0,204.9 L536.5,204.9 L538.0,204.9 L539.5,204.9 L541.0,204.9 L542.5,204.8 L544.0,204.8 L545.5,204.8 L547.0,204.8 L548.5,204.8 L550.0,204.8 L551.5,204.8 L553.1,204.8 L554.6,204.7 L556.1,204.7 L557.6,204.7 L559.1,204.7 L560.6,204.6 L562.1,204.6 L563.6,204.6 L565.1,204.5 L566.6,204.5 L568.1,204.4 L569.7,204.4 L571.2,204.4 L572.7,204.3 L574.2,204.2 L575.7,204.2 L577.2,204.1 L578.7,204.1 L580.2,204.0 L581.7,203.9 L583.2,203.8 L584.7,203.8 L586.2,203.7 L587.7,203.6 L589.2,203.5 L590.7,203.4 L592.3,203.3 L593.8,203.2 L595.3,203.1 L596.8,203.0 L598.3,202.9 L599.8,202.7 L601.3,202.6 L602.8,202.5 L604.3,202.4 L605.7,202.2 L607.2,202.1 L608.7,201.9 L610.2,201.8 L611.7,201.6 L613.2,201.5 L614.7,201.3 L616.2,201.1 L617.7,200.9 L619.2,200.8 L620.7,200.6 L622.1,200.4 L623.6,200.2 L625.1,200.0 L626.6,199.8 L628.1,199.5 L629.6,199.3 L631.0,199.1 L632.5,198.9 L634.0,198.6 L635.5,198.4 L636.9,198.1 L638.4,197.9 L639.9,197.6 L641.3,197.3 L642.8,197.0 L644.3,196.8 L645.7,196.5 L647.2,196.2 L648.6,195.9 L650.1,195.6 L651.6,195.3 L653.0,195.0 L654.5,194.6 L655.9,194.3 L657.4,194.0 L658.8,193.6 L660.3,193.3 L661.7,193.0 L663.2,192.6 L664.6,192.3 L666.1,191.9 L667.5,191.5 L669.0,191.2 L670.4,190.8 L671.9,190.4 L673.3,190.1 L674.8,189.7 L676.2,189.3 L677.6,188.9 L679.1,188.5 L680.5,188.1 L682.0,187.7 L683.4,187.3 L684.9,186.9 L686.3,186.5 L687.8,186.1 L689.2,185.7 L690.6,185.3 L692.1,184.9 L693.5,184.5 L695.0,184.1 L696.4,183.6 L697.9,183.2 L699.3,182.8 L700.8,182.4 L702.2,181.9 L703.7,181.5 L705.1,181.1 L706.6,180.7 L708.0,180.2 L709.5,179.8 L710.9,179.4 L712.4,178.9 L713.8,178.5 L715.3,178.1 L716.7,177.6 L718.2,177.2 L719.6,176.7 L721.0,176.3 L722.5,175.8 L723.9,175.3 L725.4,174.8 L726.8,174.4 L728.2,173.9 L729.6,173.3 L731.0,172.8 L732.4,172.3 L733.8,171.7 L735.2,171.2 L736.6,170.6 L738.0,170.0 L739.3,169.4 L740.7,168.8 L742.0,168.2 L743.4,167.5 L744.7,166.8 L746.0,166.1 L747.3,165.4 L748.5,164.7 L749.8,163.9 L751.1,163.1 L752.3,162.3 L753.5,161.5 L754.7,160.7 L756.0,159.8 L757.1,158.9 L758.3,158.0 L759.5,157.1 L760.7,156.2 L761.8,155.3 L763.0,154.3 L764.1,153.4 L765.2,152.4 L766.4,151.4 L767.5,150.4 L768.6,149.4 L769.7,148.4 L770.8,147.3 L771.9,146.3 L773.0,145.2 L774.1,144.2 L775.2,143.1 L776.3,142.1 L777.4,141.0 L778.5,140.0 L779.6,138.9 L780.7,137.8 L781.8,136.7 L782.9,135.7 L784.0,134.6 L785.1,133.5 L786.2,132.5 L787.3,131.4 L788.4,130.4 L789.5,129.3 L790.6,128.3 L791.8,127.2 L792.9,126.2 L794.1,125.3 L795.2,124.3 L796.4,123.4 L797.6,122.6 L798.8,121.7 L800.0,121.0 L801.3,120.3 L802.5,119.7 L803.8,119.1 L805.1,118.6 L806.5,118.2 L807.8,117.9 L809.2,117.7 L810.6,117.5 L812.0,117.5 L813.5,117.5 L815.0,117.6 L816.5,117.7 L818.0,117.9 L819.5,118.1 L821.0,118.3 L822.5,118.6 L824.1,118.9 L825.6,119.2 L827.2,119.5 L828.7,119.8 L830.3,120.1 L831.9,120.3 L833.4,120.5 L834.9,120.7 L836.5,120.8 L838.0,121.0 L839.5,121.0 L841.0,121.1 L842.5,121.1 L844.0,121.1 L845.6,121.1 L847.0,121.0 L848.5,120.9 L850.0,120.8 L851.5,120.7 L853.0,120.5 L854.5,120.3 L855.9,120.1 L857.4,119.9 L858.8,119.6 L860.3,119.3 L861.7,119.0 L863.2,118.7 L864.6,118.3 L866.1,118.0 L867.5,117.6 L868.9,117.2 L870.4,116.7 L871.8,116.3 L873.2,115.8 L874.6,115.4 L876.0,114.9 L877.4,114.4 L878.8,113.8 L880.2,113.3 L881.6,112.7 L883.0,112.2 L884.4,111.6 L885.8,111.0 L887.1,110.4 L888.5,109.8 L889.9,109.2 L891.2,108.6 L892.6,107.9 L894.0,107.3 L895.3,106.7 L896.7,106.1 L898.1,105.4 L899.4,104.8 L900.8,104.2 L902.1,103.6 L903.5,103.0 L904.9,102.5 L906.2,101.9 L907.6,101.4 L909.0,100.9 L910.3,100.4 L911.7,100.0 L913.1,99.5 L914.5,99.1 L915.8,98.8 L917.2,98.5 L918.6,98.2 L920.0,97.9 L921.4,97.7 L922.8,97.5 L924.2,97.4 L925.6,97.3 L927.1,97.3 L928.5,97.3 L929.9,97.4 L931.4,97.5 L932.8,97.7 L934.3,98.0 L935.8,98.3 L937.2,98.6 L938.7,99.0 L940.2,99.3 L941.7,99.7 L943.2,100.1 L944.7,100.4 L946.2,100.6 L947.6,100.8 L949.1,100.9 L950.6,101.0 L952.1,101.0 L953.5,100.9 L955.0,100.7 L956.5,100.4 L957.9,100.1 L959.4,99.7 L960.8,99.2 L962.2,98.7 L963.7,98.1 L965.1,97.5 L966.5,96.9 L967.9,96.2 L969.4,95.5 L970.8,94.8 L972.2,94.1 L973.6,93.4 L975.0,92.7 L976.5,92.0 L977.9,91.3 L979.3,90.7 L980.8,90.1 L982.2,89.6 L983.6,89.1 L985.1,88.6 L986.5,88.3 L988.0,88.0 L989.4,87.8 L990.9,87.7 L992.4,87.7 L993.8,87.8 L995.0,87.9" stroke="#0a40ff"/>
</g>
<rect x="251.5" y="104" width="29.29" height="672.5" fill="rgb(255,0,40)" fill-opacity="0.125"/>
<rect x="280.8" y="104" width="29.29" height="672.5" fill="rgb(255,90,0)" fill-opacity="0.120"/>
<rect x="310.1" y="104" width="29.29" height="672.5" fill="rgb(255,170,0)" fill-opacity="0.080"/>
<rect x="339.4" y="104" width="29.29" height="672.5" fill="rgb(255,200,0)" fill-opacity="0.080"/>
<rect x="368.7" y="104" width="29.29" height="672.5" fill="rgb(150,255,0)" fill-opacity="0.060"/>
<rect x="397.9" y="104" width="29.29" height="672.5" fill="rgb(0,230,60)" fill-opacity="0.080"/>
<rect x="427.2" y="104" width="29.29" height="672.5" fill="rgb(0,230,180)" fill-opacity="0.060"/>
<rect x="456.5" y="104" width="29.29" height="672.5" fill="rgb(0,230,230)" fill-opacity="0.060"/>
<rect x="485.8" y="104" width="29.29" height="672.5" fill="rgb(0,180,255)" fill-opacity="0.080"/>
<rect x="515.1" y="104" width="29.29" height="672.5" fill="rgb(60,60,255)" fill-opacity="0.190"/>
<rect x="544.4" y="104" width="29.29" height="672.5" fill="rgb(200,0,255)" fill-opacity="0.176"/>
<rect x="653.5" y="605.5" width="321" height="152" fill="#000"/>
<rect x="647.5" y="599.5" width="321" height="152" fill="#fff" stroke="#707070" stroke-width="1.5"/>
<path d="M649,616.0 H706" stroke="#999999" stroke-width="4.2"/>
<text x="711.0" y="624.3" class="lg" textLength="74.0" lengthAdjust="spacingAndGlyphs">Pristine</text>
<path d="M649,645.8 H706" stroke="#009000" stroke-width="4.2"/>
<text x="711.0" y="654.0" class="lg" textLength="182.0" lengthAdjust="spacingAndGlyphs">N@2 δ-Doping Ca</text>
<path d="M649,675.6 H706" stroke="#ff8c00" stroke-width="4.2"/>
<text x="711.0" y="683.7" class="lg" textLength="182.4" lengthAdjust="spacingAndGlyphs">N@0 δ-Doping Ca</text>
<path d="M649,705.4 H706" stroke="#0a40ff" stroke-width="4.2"/>
<text x="711.0" y="713.4" class="lg" textLength="254.2" lengthAdjust="spacingAndGlyphs">N@0 Uniform-Doping Ca</text>
<path d="M649,735.2 H706" stroke="#ff33ff" stroke-width="4.2"/>
<text x="711.0" y="743.1" class="lg" textLength="187.6" lengthAdjust="spacingAndGlyphs">N@1' δ-Doping Ca</text>
<text x="403.0" y="29.3" class="t1" textLength="299.2" lengthAdjust="spacingAndGlyphs">Wavelength λ (nm)</text>
<g transform="translate(113.5,80.6) scale(1,1.065)"><text x="0" y="0" class="tk" text-anchor="middle">1240</text></g>
<g transform="translate(223.2,80.6) scale(1,1.065)"><text x="0" y="0" class="tk" text-anchor="middle">827</text></g>
<g transform="translate(333.0,80.6) scale(1,1.065)"><text x="0" y="0" class="tk" text-anchor="middle">620</text></g>
<g transform="translate(442.8,80.6) scale(1,1.065)"><text x="0" y="0" class="tk" text-anchor="middle">496</text></g>
<g transform="translate(552.5,80.6) scale(1,1.065)"><text x="0" y="0" class="tk" text-anchor="middle">413</text></g>
<g transform="translate(662.2,80.6) scale(1,1.065)"><text x="0" y="0" class="tk" text-anchor="middle">354</text></g>
<g transform="translate(772.0,80.6) scale(1,1.065)"><text x="0" y="0" class="tk" text-anchor="middle">310</text></g>
<g transform="translate(881.8,80.6) scale(1,1.065)"><text x="0" y="0" class="tk" text-anchor="middle">276</text></g>
<g transform="translate(991.5,80.6) scale(1,1.065)"><text x="0" y="0" class="tk" text-anchor="middle">248</text></g>
<g transform="translate(113.5,812.3) scale(1,1.065)"><text x="0" y="0" class="tk" text-anchor="middle">1.0</text></g>
<g transform="translate(223.2,812.3) scale(1,1.065)"><text x="0" y="0" class="tk" text-anchor="middle">1.5</text></g>
<g transform="translate(333.0,812.3) scale(1,1.065)"><text x="0" y="0" class="tk" text-anchor="middle">2.0</text></g>
<g transform="translate(442.8,812.3) scale(1,1.065)"><text x="0" y="0" class="tk" text-anchor="middle">2.5</text></g>
<g transform="translate(552.5,812.3) scale(1,1.065)"><text x="0" y="0" class="tk" text-anchor="middle">3.0</text></g>
<g transform="translate(662.2,812.3) scale(1,1.065)"><text x="0" y="0" class="tk" text-anchor="middle">3.5</text></g>
<g transform="translate(772.0,812.3) scale(1,1.065)"><text x="0" y="0" class="tk" text-anchor="middle">4.0</text></g>
<g transform="translate(881.8,812.3) scale(1,1.065)"><text x="0" y="0" class="tk" text-anchor="middle">4.5</text></g>
<g transform="translate(991.5,812.3) scale(1,1.065)"><text x="0" y="0" class="tk" text-anchor="middle">5.0</text></g>
<g transform="translate(86,786.3) scale(1,1.065)"><text x="0" y="0" class="tk" text-anchor="end">10</text></g>
<text x="88" y="773.9" class="sup">0</text>
<g transform="translate(86,651.8) scale(1,1.065)"><text x="0" y="0" class="tk" text-anchor="end">10</text></g>
<text x="88" y="639.4" class="sup">1</text>
<g transform="translate(86,517.3) scale(1,1.065)"><text x="0" y="0" class="tk" text-anchor="end">10</text></g>
<text x="88" y="504.9" class="sup">2</text>
<g transform="translate(86,382.8) scale(1,1.065)"><text x="0" y="0" class="tk" text-anchor="end">10</text></g>
<text x="88" y="370.4" class="sup">3</text>
<g transform="translate(86,248.3) scale(1,1.065)"><text x="0" y="0" class="tk" text-anchor="end">10</text></g>
<text x="88" y="235.9" class="sup">4</text>
<g transform="translate(86,113.8) scale(1,1.065)"><text x="0" y="0" class="tk" text-anchor="end">10</text></g>
<text x="88" y="101.4" class="sup">5</text>
<text x="461.2" y="853.4" class="t1" textLength="181.0" lengthAdjust="spacingAndGlyphs">Energy (eV)</text>
<g transform="translate(34.4,537.0) rotate(-90)"><text x="0" y="0" class="t1" textLength="278.7" lengthAdjust="spacingAndGlyphs">Absorption (cm<tspan class="sup2" dy="-13">-1</tspan><tspan dy="13">)</tspan></text></g>
<text x="317.3" y="183.1" class="vl" textLength="191.9" lengthAdjust="spacingAndGlyphs">Visible Light</text>
</svg>
</body></html>
